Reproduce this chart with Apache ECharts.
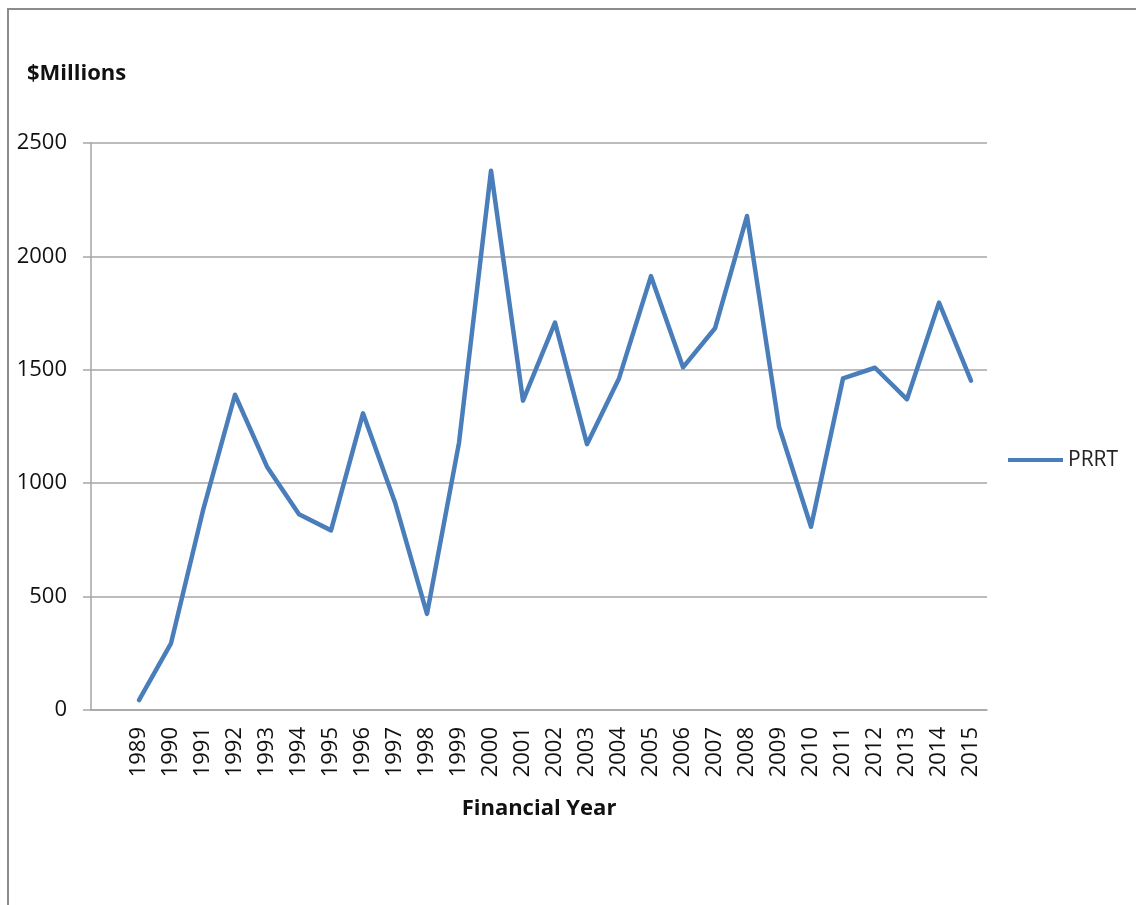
<!DOCTYPE html>
<html>
<head>
<meta charset="utf-8">
<script src="https://cdn.jsdelivr.net/npm/echarts@6/dist/echarts.min.js"></script>
<style>
html,body{margin:0;padding:0;background:#fff;}
#main{width:1136px;height:905px;}
</style>
</head>
<body>
<div id="main"></div>
<script>
// Leading blank category reproduces the empty first slot of the original chart
var categories = ['', '1989','1990','1991','1992','1993','1994','1995','1996','1997','1998','1999','2000','2001','2002','2003','2004','2005','2006','2007','2008','2009','2010','2011','2012','2013','2014','2015'];
var prrt = [null, 44, 294, 880, 1390, 1073, 863, 792, 1308, 915, 424, 1178, 2378, 1364, 1708, 1172, 1462, 1913, 1511, 1683, 2178, 1250, 808, 1462, 1509, 1370, 1796, 1452];
var yTicks = [0, 500, 1000, 1500, 2000, 2500];

var chart = echarts.init(document.getElementById('main'));
var font = '"Open Sans", "Liberation Sans", sans-serif';
chart.setOption({
  animation: false,
  backgroundColor: '#fff',
  graphic: [{
    type: 'rect',
    shape: {x: 8, y: 9, width: 1300, height: 1100},
    style: {fill: 'none', stroke: '#8c8c8c', lineWidth: 2},
    silent: true
  }],
  title: {
    text: '$Millions',
    left: 27, top: 63,
    padding: 0,
    textStyle: {fontFamily: font, fontWeight: 'bold', fontSize: 22, color: '#111'}
  },
  legend: {
    orient: 'vertical',
    left: 1008, top: 447,
    padding: 0,
    icon: 'rect',
    itemWidth: 55, itemHeight: 4, itemGap: 5,
    data: ['PRRT'],
    textStyle: {fontFamily: font, fontSize: 21, lineHeight: 26, color: '#222'}
  },
  grid: {left: 91, right: 149, top: 143, bottom: 195, containLabel: false},
  xAxis: {
    type: 'category',
    data: categories,
    boundaryGap: true,
    name: 'Financial Year',
    nameLocation: 'middle',
    nameGap: 88,
    nameTextStyle: {fontFamily: font, fontWeight: 'bold', fontSize: 22, color: '#111'},
    axisLine: {lineStyle: {color: '#a6a6a6', width: 1.5}},
    axisTick: {show: false},
    axisLabel: {rotate: 90, interval: 0, margin: 17, fontFamily: font, fontSize: 22, color: '#111'}
  },
  yAxis: {
    type: 'value',
    min: 0, max: 2500, interval: 500,
    axisLine: {show: true, lineStyle: {color: '#a6a6a6', width: 1.5}},
    axisTick: {show: true, length: 8, lineStyle: {color: '#a6a6a6', width: 1.5}},
    axisLabel: {margin: 24, fontFamily: font, fontSize: 22, color: '#111',
      formatter: function (v) { return yTicks.indexOf(v) >= 0 ? String(v) : ''; }},
    splitLine: {show: true, lineStyle: {color: '#a6a6a6', width: 1.5}}
  },
  series: [{
    name: 'PRRT',
    type: 'line',
    data: prrt,
    showSymbol: false,
    symbol: 'none',
    connectNulls: false,
    lineStyle: {color: '#4a7ebb', width: 4.5, cap: 'round', join: 'round'},
    itemStyle: {color: '#4a7ebb'}
  }]
});
</script>
</body>
</html>
